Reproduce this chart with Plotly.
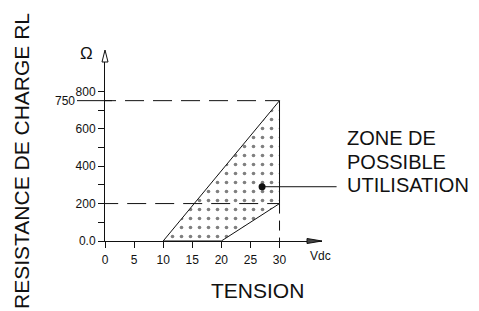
import plotly.graph_objects as go

# ---- data ----
tension_ticks = [0, 5, 10, 15, 20, 25, 30]
resistance_ticks = [0, 100, 200, 300, 400, 500, 600, 700, 800]
resistance_labels = ["0.0", "", "200", "", "400", "", "600", "", "800"]
zone_tension = [10, 30, 30, 20, 10]
zone_resistance = [0, 750, 200, 0, 0]
limit_tension = 30
limit_resistance_high = 750
limit_resistance_low = 200
marker_tension = [27]
marker_resistance = [290]
zone_label_lines = ["ZONE DE", "POSSIBLE", "UTILISATION"]

# ---- geometry (page body has an 8px margin) ----
OFF = 8
W, H = 479, 311
PLOT_L, PLOT_R, PLOT_T, PLOT_B = 105 - OFF, 322 - OFF, 52 - OFF, 241 - OFF
ML, MR, MT, MB = PLOT_L, W - PLOT_R, PLOT_T, H - PLOT_B
PW, PH = PLOT_R - PLOT_L, PLOT_B - PLOT_T
X_RANGE = [0, 37.3]
Y_RANGE = [0, 1010]

def px(xp):
    # reference-screenshot x pixel -> paper
    return (xp - OFF - PLOT_L) / PW

def py(yp):
    return (PLOT_B - (yp - OFF)) / PH

FONT = "Liberation Sans, Arial, sans-serif"
INK = "#111111"

fig = go.Figure()

fig.add_trace(go.Scatter(
    x=zone_tension, y=zone_resistance, mode="lines",
    fill="toself", fillcolor="white",
    fillpattern=dict(shape=".", size=9, solidity=0.13, fgcolor="#000000", bgcolor="white", fillmode="overlay"),
    line=dict(color=INK, width=1), hoverinfo="skip", showlegend=False,
))

fig.add_trace(go.Scatter(
    x=marker_tension, y=marker_resistance, mode="markers",
    marker=dict(size=7, color=INK), cliponaxis=False, showlegend=False,
))

shapes = [
    dict(type="line", xref="x", yref="y", x0=-1.37, x1=limit_tension,
         y0=limit_resistance_high, y1=limit_resistance_high,
         line=dict(color=INK, width=1, dash="19px,9px")),
    dict(type="line", xref="paper", yref="y", x0=px(77), x1=px(112),
         y0=limit_resistance_high, y1=limit_resistance_high,
         line=dict(color=INK, width=1)),
    dict(type="line", xref="x", yref="y", x0=-1.0, x1=limit_tension,
         y0=limit_resistance_low, y1=limit_resistance_low,
         line=dict(color=INK, width=1, dash="19px,9px")),
    dict(type="line", xref="x", yref="y", x0=limit_tension, x1=limit_tension,
         y0=limit_resistance_low, y1=0,
         line=dict(color=INK, width=1, dash="10px,7px")),
    dict(type="path", xref="paper", yref="paper", xsizemode="pixel", ysizemode="pixel",
         xanchor=0, yanchor=1, path="M0,2 L-3,-10 L3,-10 Z",
         fillcolor="white", line=dict(color=INK, width=1)),
    dict(type="path", xref="paper", yref="paper", xsizemode="pixel", ysizemode="pixel",
         xanchor=1, yanchor=0, path="M0,0 L-15,2.5 L-15,-2.5 Z",
         fillcolor="#444444", line=dict(color=INK, width=1)),
]

annotations = [
    dict(xref="paper", yref="y", x=px(77), y=limit_resistance_high, text="750",
         showarrow=False, xanchor="right", yanchor="middle",
         font=dict(family=FONT, size=12, color=INK)),
    dict(xref="paper", yref="paper", x=px(86), y=py(53), text="Ω",
         showarrow=False, xanchor="center", yanchor="middle",
         font=dict(family=FONT, size=17, color=INK)),
    dict(xref="paper", yref="paper", x=px(320), y=py(256), text="Vdc",
         showarrow=False, xanchor="center", yanchor="middle",
         font=dict(family=FONT, size=12, color=INK)),
    dict(xref="paper", yref="paper", x=px(257), y=py(290), text="TENSION",
         showarrow=False, xanchor="center", yanchor="middle",
         font=dict(family=FONT, size=21, color=INK)),
    dict(xref="paper", yref="paper", x=px(21), y=py(161), text="RESISTANCE DE CHARGE RL",
         textangle=-90, showarrow=False, xanchor="center", yanchor="middle",
         font=dict(family=FONT, size=21, color=INK)),
    dict(xref="x", yref="y", x=marker_tension[0], y=marker_resistance[0], text="",
         showarrow=True, arrowhead=0, arrowwidth=1, arrowcolor=INK,
         ax=76, ay=0, standoff=0, startstandoff=0),
]
for line, yc in zip(zone_label_lines, [138, 161.5, 185]):
    annotations.append(dict(xref="paper", yref="paper", x=px(345), y=py(yc), text=line,
                            showarrow=False, xanchor="left", yanchor="middle",
                            font=dict(family=FONT, size=20, color=INK)))

fig.update_layout(
    width=W, height=H, margin=dict(l=ML, r=MR, t=MT, b=MB, pad=0),
    paper_bgcolor="white", plot_bgcolor="white",
    shapes=shapes, annotations=annotations, showlegend=False,
    font=dict(family=FONT, size=12, color=INK),
)
fig.update_xaxes(range=X_RANGE, tickvals=tension_ticks, ticks="outside", ticklen=6,
                 tickcolor=INK, showline=True, linecolor=INK, linewidth=1,
                 showgrid=False, zeroline=False, ticklabelstandoff=2,
                 tickfont=dict(family=FONT, size=12, color=INK))
fig.update_yaxes(range=Y_RANGE, tickvals=resistance_ticks, ticktext=resistance_labels,
                 ticks="outside", ticklen=6, tickcolor=INK, showline=True, linecolor=INK,
                 linewidth=1, showgrid=False, zeroline=False,
                 tickfont=dict(family=FONT, size=12, color=INK))

fig.write_html("out.html")
